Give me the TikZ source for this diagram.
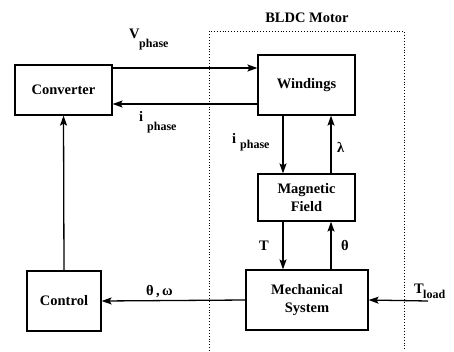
\documentclass[tikz,border=0pt]{standalone}
\usepackage{fontspec}
\setmainfont{Liberation Serif}[BoldFont={* Bold}]
\usetikzlibrary{arrows.meta}
\begin{document}
\begin{tikzpicture}[x=1pt,y=-1pt,
  blk/.style={draw,line width=1.2pt,inner sep=0pt,align=center,
    font=\fontsize{14.5}{17}\selectfont\bfseries},
  arr/.style={line width=1.3pt,-{Stealth[length=10pt,width=7pt,inset=2pt]}},
  lbl/.style={inner sep=0pt,font=\fontsize{14.5}{17}\selectfont\bfseries},
  sub/.style={inner sep=0pt,font=\fontsize{12}{14}\selectfont\bfseries}]
\useasboundingbox (0,0) rectangle (454,351);
% motor dotted frame
\coordinate (mbl) at (209,351);
\coordinate (mtl) at (209,31);
\coordinate (mtr) at (404,31);
\coordinate (mbr) at (404,351);
\draw[line width=0.9pt,dotted] (mbl) -- (mtl) -- (mtr) -- (mbr);
\node[lbl] (title) at (307,18) {BLDC Motor};
% blocks
\node[blk,minimum width=97pt,minimum height=50pt] (conv) at (63.5,90) {Converter};
\node[blk,minimum width=97pt,minimum height=60pt] (wind) at (306.5,85) {Windings};
\node[blk,minimum width=97pt,minimum height=47pt] (mag) at (306.5,197.5) {Magnetic\\[1pt]Field};
\node[blk,minimum width=122pt,minimum height=60pt] (mech) at (307,300) {Mechanical\\[1pt]System};
\node[blk,minimum width=74pt,minimum height=60pt] (ctrl) at (64,301) {Control};
% connectors
\draw[arr] (conv.east |- 0,68) -- (wind.west |- 0,68);
\draw[arr] (wind.west |- 0,104) -- (conv.east |- 0,104);
\draw[arr] (ctrl.north) -- (conv.south);
\draw[arr] (wind.south -| 283,0) -- (mag.north -| 283,0);
\draw[arr] (mag.north -| 331,0) -- (wind.south -| 331,0);
\draw[arr] (mag.south -| 283,0) -- (mech.north -| 283,0);
\draw[arr] (mech.north -| 331,0) -- (mag.south -| 331,0);
\draw[arr] (mech.west) -- (ctrl.east);
\coordinate (load) at (428,301);
\draw[arr] (load) -- (mech.east);
% labels
\node[lbl,anchor=base west] (vl) at (129,38) {V};
\node[sub,anchor=base west] (vls) at (139,47) {phase};
\node[lbl,anchor=base west] (il) at (139,121) {i};
\node[sub,anchor=base west] (ils) at (147,130) {phase};
\node[lbl,anchor=base west] (il2) at (232,143) {i};
\node[sub,anchor=base west] (ils2) at (240,148) {phase};
\node[lbl,anchor=base west] (lam) at (337,152) {λ};
\node[lbl,anchor=base west] (tq) at (259,250) {T};
\node[lbl,anchor=base west] (th) at (341,250) {θ};
\node[lbl,anchor=base west] (thw) at (146,295) {θ\,,\,ω};
\node[lbl,anchor=base west] (tl) at (414,293) {T};
\node[sub,anchor=base west] (tls) at (423,298) {load};
\end{tikzpicture}
\end{document}
